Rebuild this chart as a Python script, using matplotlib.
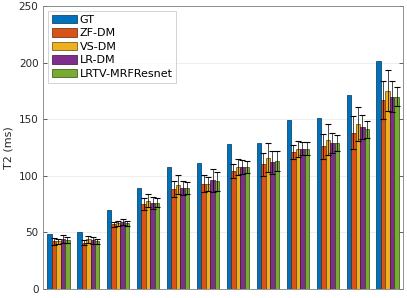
import numpy as np
import matplotlib.pyplot as plt

# T2 values (ms) per tissue group
series = ['GT', 'ZF-DM', 'VS-DM', 'LR-DM', 'LRTV-MRFResnet']
gt   = [49, 50, 70, 89, 108, 111, 128, 129, 149, 151, 171, 201]
zf   = [42, 41, 57, 75, 88, 93, 104, 110, 121, 126, 138, 167]
vs   = [42, 44, 58, 78, 92, 93, 108, 116, 124, 132, 146, 175]
lr   = [44, 43, 59, 76, 89, 96, 108, 112, 124, 129, 143, 170]
lrtv = [43, 42, 58, 76, 89, 95, 108, 113, 124, 129, 141, 170]

zf_sd   = [3, 2.5, 2, 5, 7, 7.5, 6, 10, 6, 11, 14.5, 16.5]
vs_sd   = [2, 3, 2, 6, 8.5, 6, 7, 13, 7, 13.5, 15, 18]
lr_sd   = [3.5, 3, 2.5, 5, 6, 10, 6, 10, 6, 9, 10.5, 13.5]
lrtv_sd = [2.5, 2.5, 2, 4, 5.5, 8, 5.5, 9, 5.5, 7, 7.5, 8.5]

colors = ['#0072BD', '#D95319', '#EDB120', '#7E2F8E', '#77AC30']
edges = ['#00304f', '#5a220a', '#5e470b', '#32133a', '#324816']

vals = [gt, zf, vs, lr, lrtv]
sds = [None, zf_sd, vs_sd, lr_sd, lrtv_sd]

plt.rcParams['font.family'] = 'DejaVu Sans'
fig = plt.figure(figsize=(4.07, 2.98), dpi=100)
ax = fig.add_axes([0.1065, 0.0302, 0.8829, 0.9498])

x = np.arange(1, len(gt) + 1)
w = 0.15
for i in range(5):
    xi = x + (i - 2) * w
    ax.bar(xi, vals[i], width=w, color=colors[i], edgecolor=edges[i],
           linewidth=0.5, label=series[i], zorder=2)
for i in range(1, 5):
    xi = x + (i - 2) * w
    ax.errorbar(xi, vals[i], yerr=sds[i], fmt='none', ecolor='black',
                elinewidth=0.5, capsize=2, capthick=0.8, zorder=3)

ax.set_xlim(0.5, 12.5)
ax.set_ylim(0, 250)
ax.set_xticks([])
ax.set_yticks(range(0, 251, 50))
ax.tick_params(axis='y', direction='in', length=3, width=0.5, labelsize=7.5,
               right=True, colors='#262626')
ax.yaxis.grid(True, color='#ebebeb', linewidth=0.6, zorder=0)
ax.set_axisbelow(True)
for s in ax.spines.values():
    s.set_color('#808080')
    s.set_linewidth(0.6)
ax.set_ylabel('T2 (ms)', fontsize=8, color='#262626', labelpad=4)

leg = ax.legend(loc='upper left', fontsize=8, frameon=True, fancybox=False,
                edgecolor='#bfbfbf', handlelength=2.2, handleheight=0.8,
                handletextpad=0.25, labelspacing=0.3, borderpad=0.35,
                borderaxespad=0.45)
leg.get_frame().set_linewidth(0.6)

fig.savefig('out.png', dpi=100)
